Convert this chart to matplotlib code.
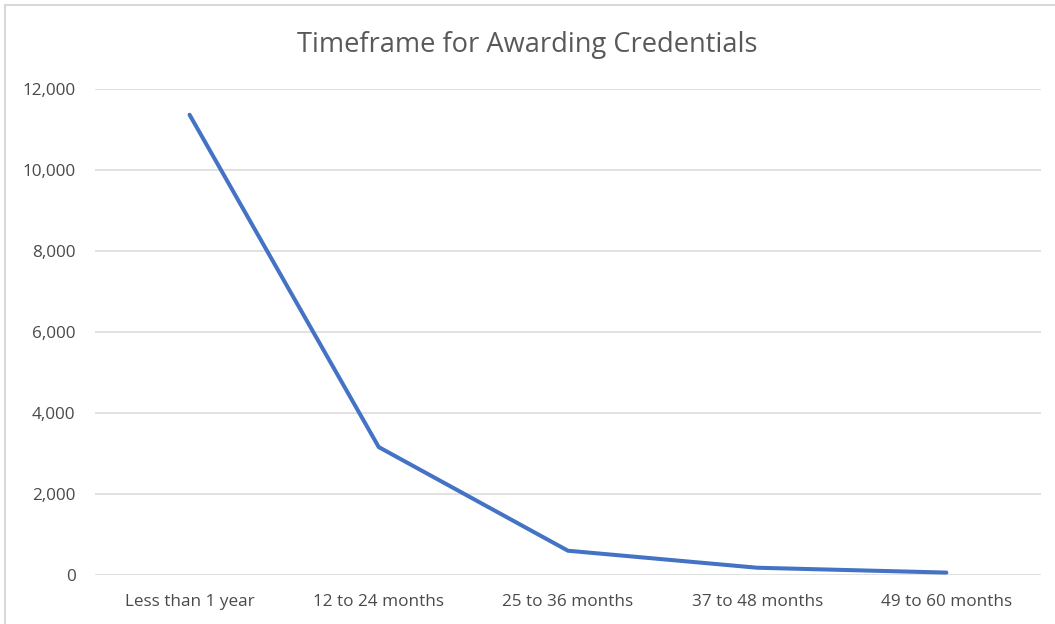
import numpy as np
import matplotlib.pyplot as plt
from matplotlib.lines import Line2D
from matplotlib.ticker import FuncFormatter

plt.rcParams["font.family"] = ["Open Sans", "DejaVu Sans"]

categories = ["Less than 1 year", "12 to 24 months", "25 to 36 months",
              "37 to 48 months", "49 to 60 months"]
credentials = [11370, 3160, 600, 180, 60]
yticks = [0, 2000, 4000, 6000, 8000, 10000, 12000]

fig = plt.figure(figsize=(10.55, 6.24), dpi=100)
ax = fig.add_axes([0.090, 0.0785, 0.8967, 0.7785])

x = np.arange(len(categories))
ax.plot(x, credentials, color="#4472C4", lw=2.9, solid_capstyle="round",
        solid_joinstyle="miter", zorder=3)

ax.set_xlim(-0.5, len(categories) - 0.5)
ax.set_ylim(0, 12000)
ax.set_yticks(yticks)
ax.yaxis.set_major_formatter(FuncFormatter(lambda v, p: f"{int(v):,}"))
ax.set_xticks(x)
ax.set_xticklabels(categories)
ax.tick_params(axis="both", length=0, labelsize=12.3, labelcolor="#4a4a4a")
ax.tick_params(axis="y", pad=14)
ax.tick_params(axis="x", pad=14)
ax.grid(axis="y", color="#d9d9d9", lw=1.1)
ax.set_axisbelow(True)
for s in ax.spines.values():
    s.set_visible(False)

fig.text(0.5, 0.928, "Timeframe for Awarding Credentials", ha="center",
         va="center", fontsize=19.6, color="#595959")

# outer chart frame (only top and left edges visible in the crop)
fig.add_artist(Line2D([5 / 1055, 1], [1 - 5 / 624, 1 - 5 / 624],
                      transform=fig.transFigure, color="#d9d9d9", lw=1.5))
fig.add_artist(Line2D([5 / 1055, 5 / 1055], [0, 1 - 5 / 624],
                      transform=fig.transFigure, color="#d9d9d9", lw=1.5))

plt.savefig("out.png", dpi=100)
